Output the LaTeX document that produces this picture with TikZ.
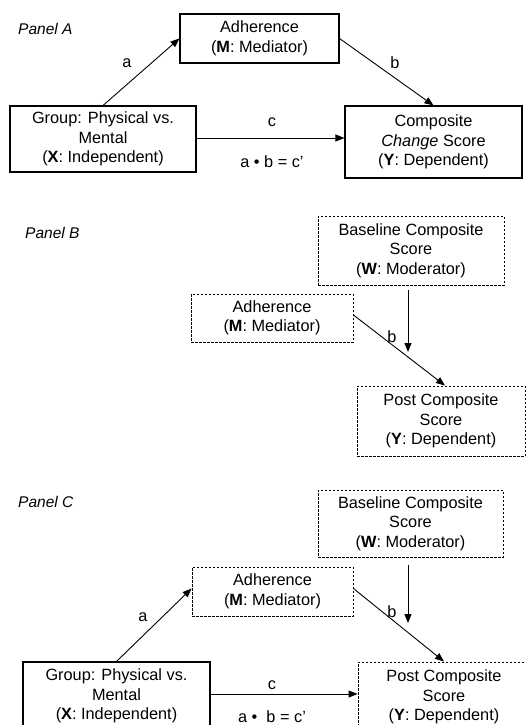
\documentclass[tikz,border=0pt]{standalone}
\usepackage{fontspec}
\setmainfont{Liberation Sans}
\usetikzlibrary{arrows.meta}
\begin{document}
\begin{tikzpicture}[x=1pt,y=-1pt,
  every node/.style={font=\fontsize{16.3}{19.5}\selectfont},
  solidbox/.style={draw, line width=1.1pt, align=center, inner sep=0pt},
  dashbox/.style={draw, line width=0.9pt, dash pattern=on 2.5pt off 1.5pt, align=center, inner sep=0pt},
  conn/.style={line width=0.9pt, -{Triangle[length=9pt,width=7pt]}},
  lbl/.style={inner sep=0pt},
  paneltitle/.style={inner sep=0pt, anchor=west, font=\fontsize{15.5}{18}\selectfont\itshape}]
\useasboundingbox (0,0) rectangle (526,725);
\clip (0,0) rectangle (526,725);
\fill[white] (0,0) rectangle (526,725);

% ---------------- Panel A ----------------
\node[paneltitle] (tA) at (18,29) {Panel A};
\node[solidbox, minimum width=159pt, minimum height=49pt] (adhA) at (259.5,38.5) {Adherence\\(\textbf{M}: Mediator)};
\node[solidbox, minimum width=186pt, minimum height=66pt] (grpA) at (103,139) {Group: Physical vs.\\Mental\\(\textbf{X}: Independent)};
\node[solidbox, minimum width=177pt, minimum height=72pt] (compA) at (433.5,142) {Composite\\\textit{Change} Score\\(\textbf{Y}: Dependent)};
\draw[conn] (grpA.north) -- (adhA.west);
\draw[conn] (adhA.east) -- (compA.north);
\draw[conn] ([yshift=1pt]grpA.east) -- ([yshift=1pt]grpA.east -| compA.west);
\node[lbl] (laA) at (127,63) {a};
\node[lbl] (lbA) at (395,63) {b};
\node[lbl] (lcA) at (272,122) {c};
\node[lbl] (labA) at (272,162) {a • b = c’};

% ---------------- Panel B ----------------
\node[paneltitle] (tB) at (25,233) {Panel B};
\node[dashbox, minimum width=186pt, minimum height=69pt] (baseB) at (411,250.5) {Baseline Composite\\Score\\(\textbf{W}: Moderator)};
\node[dashbox, minimum width=162pt, minimum height=48pt] (adhB) at (272,318) {Adherence\\(\textbf{M}: Mediator)};
\node[dashbox, minimum width=168pt, minimum height=70pt] (postB) at (441,421) {Post Composite\\Score\\(\textbf{Y}: Dependent)};
\coordinate (mB) at (408,352);
\draw[conn, shorten <=5pt] (baseB.south -| mB) -- (mB);
\draw[conn] ([yshift=3pt]adhB.east) -- ([xshift=4pt]postB.north);
\node[lbl] (lbB) at (392,337) {b};

% ---------------- Panel C ----------------
\node[paneltitle] (tC) at (18,502) {Panel C};
\node[dashbox, minimum width=185pt, minimum height=67pt] (baseC) at (410.5,523.5) {Baseline Composite\\Score\\(\textbf{W}: Moderator)};
\node[dashbox, minimum width=161pt, minimum height=49pt] (adhC) at (272.5,591.5) {Adherence\\(\textbf{M}: Mediator)};
\node[solidbox, minimum width=187pt, minimum height=68pt] (grpC) at (116.5,696) {Group: Physical vs.\\Mental\\(\textbf{X}: Independent)};
\node[dashbox, minimum width=172pt, minimum height=70pt] (postC) at (444,697) {Post Composite\\Score\\(\textbf{Y}: Dependent)};
\coordinate (mC) at (408,623);
\draw[conn, shorten <=8pt] (baseC.south -| mC) -- (mC);
\draw[conn] (grpC.north) -- ([yshift=3pt]adhC.west);
\draw[conn] ([yshift=3pt]adhC.east) -- (postC.north);
\draw[conn] ([yshift=2pt]grpC.east) -- ([yshift=2pt]grpC.east -| postC.west);
\node[lbl] (laC) at (143,617) {a};
\node[lbl] (lbC) at (392,612) {b};
\node[lbl] (lcC) at (272,685) {c};
\node[lbl] (labC) at (272,717) {a •\ \ b = c’};
\end{tikzpicture}
\end{document}
